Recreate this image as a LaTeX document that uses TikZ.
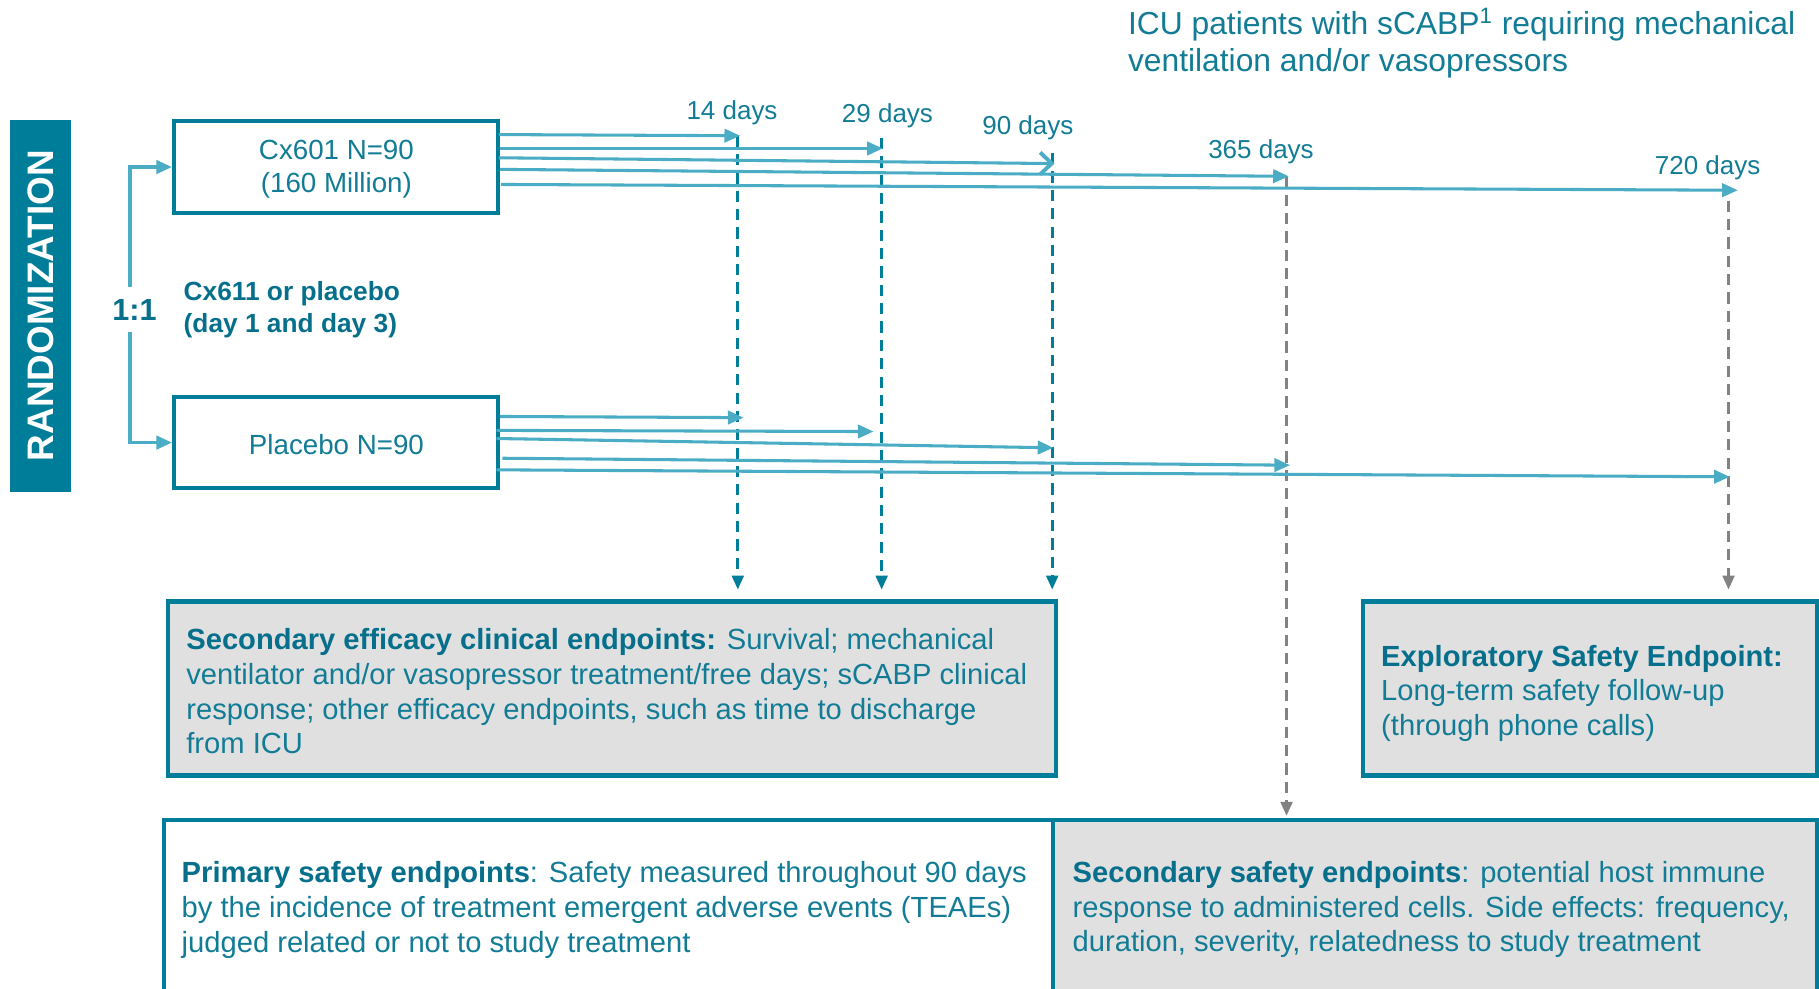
\documentclass[tikz,border=0pt]{standalone}
\usepackage{fontspec}
\setmainfont{Liberation Sans}
\usetikzlibrary{arrows.meta,calc}
\definecolor{cteal}{RGB}{0,126,153}
\definecolor{bteal}{RGB}{6,112,140}
\definecolor{tteal}{RGB}{18,124,150}
\definecolor{lblue}{RGB}{75,172,198}
\definecolor{dgray}{RGB}{130,130,130}
\definecolor{bgray}{RGB}{224,224,224}
\begin{document}
\begin{tikzpicture}[x=0.02cm,y=-0.02cm,
  armbox/.style={draw=cteal, line width=2pt, fill=white, minimum width=5.58cm, minimum height=1.6cm, inner sep=0pt},
  armtext/.style={text=tteal, align=center, inner sep=0pt, font=\fontsize{13.6pt}{16pt}\selectfont},
  endbox/.style={draw=cteal, line width=2pt, fill=bgray, minimum height=3cm, inner sep=0pt},
  endtext/.style={anchor=west, align=left, inner sep=0pt, text=tteal, font=\fontsize{14.3pt}{17pt}\selectfont},
  daylbl/.style={text=tteal, inner sep=0pt, font=\fontsize{12.75pt}{15pt}\selectfont},
  flow/.style={draw=lblue, line width=1.5pt, -{Triangle[length=0.27cm, width=0.23cm]}},
  barb/.style={draw=lblue, line width=1.5pt, -{Straight Barb[length=0.2cm, width=0.38cm, line width=1.9pt]}},
  tealdash/.style={draw=cteal, line width=1.45pt, dash pattern=on 5.5pt off 3.5pt, -{Triangle[length=0.24cm, width=0.2cm]}},
  graydash/.style={draw=dgray, line width=1.45pt, dash pattern=on 5.5pt off 3.5pt, -{Triangle[length=0.24cm, width=0.2cm]}}
]
\path[use as bounding box, clip] (0,0) rectangle (1568,852);

% title
\node[anchor=north west, inner sep=0pt, align=left, text=tteal, font=\fontsize{15.6pt}{18.2pt}\selectfont]
  (title) at (972,7) {ICU patients with sCABP\textsuperscript{1} requiring mechanical\\ventilation and/or vasopressors};

% randomization bar
\node[fill=cteal, minimum width=1.04cm, minimum height=6.42cm, inner sep=0pt] (rbar) at (35,263.5) {};
\node[rotate=90, text=white, font=\bfseries\fontsize{18.1pt}{20pt}\selectfont] (rtxt) at (rbar.center) {RANDOMIZATION};

% arms
\node[armbox] (cx) at (289.5,144) {};
\node[armtext] (cxtxt) at (290,146) {Cx601 N=90\\(160 Million)};
\node[armbox, minimum height=1.58cm] (pl) at (289.5,381.5) {};
\node[armtext] (pltxt) at (290,383) {Placebo N=90};

% 1:1 split
\coordinate (brk) at (112,263);
\draw[flow, line width=1.7pt] (brk) |- (cx.west);
\draw[flow, line width=1.7pt] (brk) |- (pl.west);
\node[fill=white, text=bteal, inner xsep=1pt, inner ysep=6pt, font=\bfseries\fontsize{15pt}{16pt}\selectfont] (ratio) at (116,267) {1:1};
\node[anchor=west, align=left, inner sep=0pt, text=bteal, font=\bfseries\fontsize{12.9pt}{15.3pt}\selectfont]
  (dose) at (158,267) {Cx611 or placebo\\(day 1 and day 3)};

% time points on the treated arm
\coordinate (c1) at (430,116);  \coordinate (e1) at (638,117);
\coordinate (c2) at (431,128);  \coordinate (e2) at (761,128);
\coordinate (c3) at (430,136);  \coordinate (e3) at (909,141);
\coordinate (c4) at (431,146);  \coordinate (e4) at (1111,152);
\coordinate (c5) at (432,159);  \coordinate (e5) at (1498,164);
% time points on the placebo arm
\coordinate (p1) at (431,359);  \coordinate (f1) at (641,360);
\coordinate (p2) at (428,371);  \coordinate (f2) at (753,372);
\coordinate (p3) at (428,378);  \coordinate (f3) at (908,386);
\coordinate (p4) at (433,395);  \coordinate (f4) at (1112,401);
\coordinate (p5) at (428,405);  \coordinate (f5) at (1491,411);

% endpoint boxes
\node[endbox, minimum width=15.3cm] (eff) at (527.5,593.5) {};
\node[endbox, minimum width=7.82cm] (expl) at (1370.5,593.5) {};
\node[endbox, fill=white, minimum width=15.34cm] (prim) at (524.5,782) {};
\node[endbox, minimum width=13.16cm] (secs) at (1237,782) {};

% timeline drop lines
\coordinate (d14) at (636,117);
\coordinate (d29) at (760,119);
\coordinate (d90) at (907,132);
\coordinate (d365) at (1109,152);
\coordinate (d720) at (1490,173);
\draw[tealdash, shorten >=0.17cm] (d14) -- (d14 |- eff.north);
\draw[tealdash, shorten >=0.17cm] (d29) -- (d29 |- eff.north);
\draw[tealdash, shorten >=0.17cm] (d90) -- (d90 |- eff.north);
\draw[graydash, shorten >=0.04cm] (d365) -- (d365 |- secs.north);
\draw[graydash, shorten >=0.17cm] (d720) -- (d720 |- expl.north);

% follow-up arrows
\draw[flow] (c1) -- (e1);
\draw[flow] (c2) -- (e2);
\draw[barb] (c3) -- (e3);
\draw[flow] (c4) -- (e4);
\draw[flow] (c5) -- (e5);
\draw[flow] (p1) -- (f1);
\draw[flow] (p2) -- (f2);
\draw[flow] (p3) -- (f3);
\draw[flow] (p4) -- (f4);
\draw[flow] (p5) -- (f5);

% day labels
\node[daylbl] (l14) at (631,97.5) {14 days};
\node[daylbl] (l29) at (765,99.5) {29 days};
\node[daylbl] (l90) at (886,110.5) {90 days};
\node[daylbl] (l365) at (1087,130.5) {365 days};
\node[daylbl] (l720) at (1472,144.5) {720 days};

% endpoint texts
\node[endtext] (efftxt) at ([xshift=0.34cm, yshift=-0.05cm]eff.west)
  {{\color{bteal}\bfseries Secondary efficacy clinical endpoints:} Survival; mechanical\\
   ventilator and/or vasopressor treatment/free days; sCABP clinical\\
   response; other efficacy endpoints, such as time to discharge\\
   from ICU};
\node[endtext] (expltxt) at ([xshift=0.34cm, yshift=-0.08cm]expl.west)
  {{\color{bteal}\bfseries Exploratory Safety Endpoint:}\\
   Long-term safety follow-up\\
   (through phone calls)};
\node[endtext] (primtxt) at ([xshift=0.34cm, yshift=-0.05cm]prim.west)
  {{\color{bteal}\bfseries Primary safety endpoints}: Safety measured throughout 90 days\\
   by the incidence of treatment emergent adverse events (TEAEs)\\
   judged related or not to study treatment};
\node[endtext] (secstxt) at ([xshift=0.36cm, yshift=-0.04cm]secs.west)
  {{\color{bteal}\bfseries Secondary safety endpoints}: potential host immune\\
   response to administered cells. Side effects: frequency,\\
   duration, severity, relatedness to study treatment};
\end{tikzpicture}
\end{document}
